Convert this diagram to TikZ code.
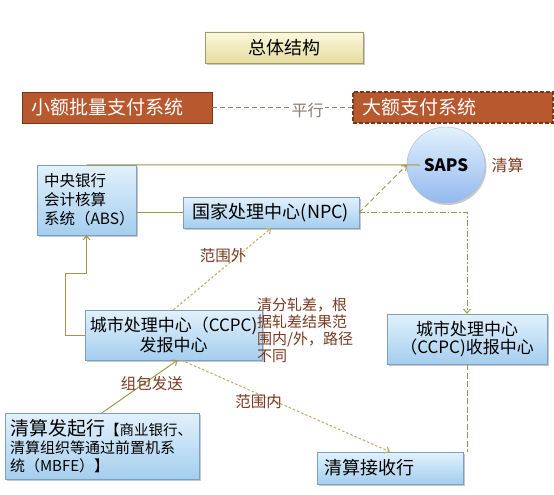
\documentclass[tikz,border=0pt]{standalone}
\usepackage{fontspec}
\setmainfont{Noto Sans CJK SC}
\usepackage{xcolor}
\usetikzlibrary{shapes.geometric, arrows.meta, shadows, positioning}

\definecolor{xianlv}{RGB}{160,152,72}
\definecolor{dianhuang}{RGB}{192,172,100}
\definecolor{zhuanhong}{RGB}{184,88,47}
\definecolor{zhuanbian}{RGB}{120,55,28}
\definecolor{zihe}{RGB}{122,58,32}
\definecolor{huihe}{RGB}{135,125,115}
\definecolor{landing}{RGB}{226,241,252}
\definecolor{landi}{RGB}{164,206,238}
\definecolor{lanbian}{RGB}{125,160,192}
\definecolor{huangding}{RGB}{252,248,222}
\definecolor{huangdi}{RGB}{230,220,158}

\tikzset{
  yinying/.style={drop shadow={shadow xshift=1.5pt, shadow yshift=-2pt, opacity=.35, fill=black!60}},
  lanhe/.style={draw=lanbian, top color=landing, bottom color=landi, yinying, inner ysep=2pt},
  biaoti/.style={draw=huangdi!70!black, top color=huangding, bottom color=huangdi, yinying, font=\fontsize{18}{20}\selectfont},
  zhifu/.style={draw=zhuanbian, fill=zhuanhong, text=white, align=left, inner xsep=9pt, font=\fontsize{19}{21}\selectfont},
  zise/.style={text=zihe, font=\fontsize{15.5}{17}\selectfont},
  xian/.style={draw=xianlv, line width=1pt},
  xuxian/.style={draw=xianlv!85!gray, line width=1pt},
  diandian/.style={draw=dianhuang, line width=1pt, dash pattern=on 2.5pt off 2pt},
  jiantou/.style={-{Straight Barb[length=4pt, width=7pt]}}
}

\begin{document}
\begin{tikzpicture}[x=1pt, y=-1pt]
  \useasboundingbox[fill=white] (0,0) rectangle (554,495);

  % 标题
  \node[biaoti, minimum width=158pt, minimum height=31pt] (zongti) at (284,47.5) {总体结构};

  % 两个支付系统
  \node[zhifu, text width=172pt, minimum height=31pt] (xiaoe) at (117,107.5) {小额批量支付系统};
  \node[zhifu, dash pattern=on 4pt off 2pt, line width=1.3pt, text width=182pt, minimum height=31pt] (daee) at (453,107.5) {大额支付系统};
  \draw[dash pattern=on 5pt off 3pt, draw=huihe, line width=0.9pt] (xiaoe) -- (daee)
    node[pos=0.68, fill=white, inner sep=1pt, text=huihe, font=\fontsize{16}{18}\selectfont, yshift=-3pt] (pingxing) {平行};

  % SAPS
  \node[ellipse, draw=lanbian!70, top color=landing, bottom color=landi!90!blue, yinying,
        minimum width=78pt, minimum height=76pt, font=\fontsize{17}{19}\selectfont\bfseries] (saps) at (446,165) {SAPS};
  \node[zise, font=\fontsize{16}{18}\selectfont, right=3pt of saps] (qingsuan) {清算};

  % 各处理中心
  \node[lanhe, text width=85pt, inner xsep=7pt, minimum height=70pt, align=left,
        font=\fontsize{15.5}{19}\selectfont] (abs) at (86.5,200) {中央银行\\会计核算\\系统（ABS）};
  \node[lanhe, minimum width=176pt, minimum height=31pt, font=\fontsize{18}{20}\selectfont] (npc) at (271,212.5) {国家处理中心(NPC)};
  \node[lanhe, minimum width=177pt, minimum height=50pt, align=center,
        font=\fontsize{17}{20}\selectfont] (fabao) at (173.5,335) {城市处理中心（CCPC)\\发报中心};
  \node[lanhe, minimum width=160pt, minimum height=50pt, align=center,
        font=\fontsize{17}{18}\selectfont] (shoubao) at (467,339) {城市处理中心\\（CCPC)收报中心};

  % 说明
  \node[zise, align=left, anchor=north west, inner sep=0pt, font=\fontsize{15}{17}\selectfont] (shuoming) at (257,298)
    {清分轧差，根\\据轧差结果范\\围内/外，路径\\不同};

  % 发起行与接收行
  \node[lanhe, text width=184pt, inner xsep=5pt, minimum height=66pt, align=left,
        font=\fontsize{15}{18}\selectfont] (faqi) at (102,446)
    {{\fontsize{19}{18}\selectfont 清算发起行}{\fontsize{14.5}{18}\selectfont 【商业银行、}\\清算组织等通过前置机系\\统（MBFE）】};
  \node[lanhe, text width=132pt, inner xsep=7pt, minimum height=32pt, align=left,
        font=\fontsize{18}{20}\selectfont] (jieshou) at (390,468) {清算接收行};

  % 实线
  \draw[xian] (abs.north) -- ([xshift=13pt]saps.west);
  \draw[xian] (npc.west) -- (npc.west -| abs.east);
  \draw[xian, jiantou] (fabao.west) -- ++(-19,0) |- ([yshift=-38pt]abs.south) -- (abs.south);
  \draw[xian, jiantou] (faqi.north) -- ([xshift=4pt]fabao.south)
    node[zise, midway, xshift=12pt, yshift=2.5pt] (zubao) {组包发送};

  % 虚线
  \draw[xuxian, dash pattern=on 5pt off 3pt, jiantou] (npc.east) -- (saps.west);
  \draw[xuxian, dash pattern=on 6pt off 2pt on 1.5pt off 2pt, jiantou] (npc.east) -- (npc.east -| shoubao.north) -- (shoubao.north);
  \draw[xuxian, dash pattern=on 6pt off 2.5pt] (shoubao.south) -- (shoubao.south |- jieshou.north);
  \draw[diandian, jiantou] (fabao.north) -- (npc.south)
    node[zise, pos=0.6, xshift=-9pt, yshift=5pt] (fanwaiwai) {范围外};
  \draw[diandian, jiantou] ([xshift=8pt]fabao.south) -- (jieshou.north)
    node[zise, pos=0.37, yshift=-8pt] (fanweinei) {范围内};

\end{tikzpicture}
\end{document}
